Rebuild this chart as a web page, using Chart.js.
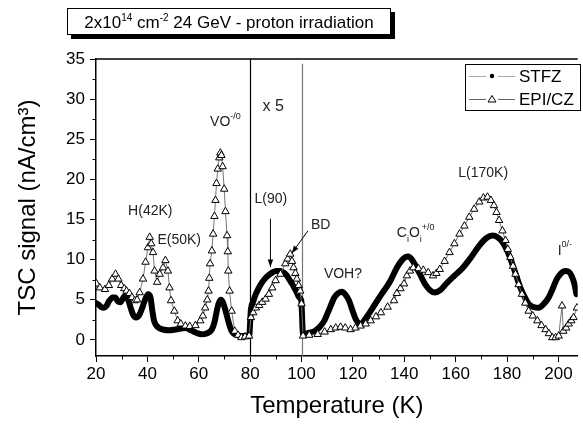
<!DOCTYPE html>
<html>
<head>
<meta charset="utf-8">
<script src="https://cdn.jsdelivr.net/npm/chart.js@4.4.1/dist/chart.umd.min.js"></script>
<style>
  html, body { margin: 0; padding: 0; background: #fff; }
  #wrap { position: relative; width: 583px; height: 426px; }
  #title {
    position: absolute; left: 67px; top: 8px; width: 322px; height: 25px;
    border: 1px solid #000; background: #fff; box-shadow: 4px 4px 0 #000;
    font: 17px "Liberation Sans", Arial, sans-serif; text-align: center;
    line-height: 28px; z-index: 2; white-space: nowrap;
  }
  #title sup { font-size: 10px; line-height: 0; vertical-align: 7px; }
</style>
</head>
<body>
<div id="wrap">
  <canvas id="tsc" width="583" height="426"></canvas>
  <div id="title">2x10<sup>14</sup> cm<sup>-2</sup> 24 GeV - proton irradiation</div>
</div>
<script>
// temperatures (K) and TSC signal (nA/cm3)
const stfzTemp = [20, 21, 22, 23, 24, 25, 26.5, 27.5, 28.5, 29.5, 30.5, 31.3, 32.5, 33.5, 34.5, 35.6, 36.8, 38, 39.2, 40.3,
  41.2, 42, 42.6, 43.5, 44.5, 46, 48.4, 51, 54.8, 57, 59, 61.2, 63, 65.1, 66.2, 67, 67.8, 68.7, 69.5, 70.2,
  70.8, 71.8, 72.8, 74, 76.6, 79.6, 80.3, 81.2, 82.2, 83.4, 84.7, 86.5, 88.6, 90.2, 91.8, 93, 94.3, 95.3, 96.3, 97.2,
  98.2, 99.1, 99.9, 100.6, 103, 105.1, 107, 108.9, 110.5, 111.8, 112.8, 114.2, 115.7, 117.2, 118.5, 119.8, 121.1, 123, 125, 126.9,
  129.5, 132, 134.5, 137.1, 139, 140.3, 141.6, 143.2, 144.8, 146.4, 148, 150, 151.9, 154, 156.3, 159.5, 162.8, 166, 169.2, 172,
  174.3, 176.3, 178.2, 180.2, 182, 183.6, 185.2, 186.8, 188.4, 190.3, 192.3, 194.3, 196.2, 197.8, 199.4, 201, 202.5, 204, 205.1, 206.2, 207];
const stfzSignal = [4.6, 4.4, 4.1, 4.0, 4.2, 4.8, 5.3, 5.3, 4.8, 4.7, 5.2, 5.5, 5.0, 4.0, 3.1, 2.8, 3.1, 4.0, 5.1, 5.7,
  5.3, 3.5, 2.4, 1.8, 1.5, 1.3, 1.2, 1.3, 1.5, 1.2, 0.9, 0.7, 0.8, 1.3, 2.3, 3.6, 4.6, 5.0, 4.6, 3.9,
  3.2, 2.0, 1.1, 0.7, 0.5, 0.5, 3.8, 4.8, 5.7, 6.5, 7.2, 7.9, 8.4, 8.6, 8.6, 8.4, 8.0, 7.5, 7.0, 6.5,
  5.9, 5.3, 4.9, 0.7, 0.9, 1.1, 1.6, 2.4, 3.6, 4.6, 5.3, 5.8, 6.0, 5.6, 4.9, 3.7, 2.6, 1.95, 2.7, 3.6,
  4.9, 6.1, 7.3, 9.0, 9.9, 10.3, 10.4, 9.9, 9.0, 8.0, 7.0, 6.2, 5.9, 6.2, 7.0, 8.0, 9.0, 10.3, 11.75, 12.7,
  13.0, 12.8, 12.2, 11.0, 9.5, 8.0, 6.5, 5.4, 4.5, 4.1, 4.0, 4.5, 5.3, 6.4, 7.6, 8.3, 8.6, 8.5, 8.0, 7.0, 5.7];

const epiTemp = [20.2, 21.5, 23.5, 25, 26.3, 27.6, 28.7, 29.8, 31, 31.9, 33, 34, 35.1, 36, 37, 38.3, 39.3, 40.2, 40.9, 41.5,
  42.2, 42.8, 43.8, 44.8, 46.1, 47, 48, 48.6, 49.2, 50.5, 51.8, 53, 54.8, 56.5, 58.7, 60.6, 61.6, 62.5, 63.3, 63.8,
  64.1, 64.4, 65.1, 65.6, 66.1, 66.5, 66.9, 67.4, 68, 68.4, 68.8, 69.3, 69.9, 70.4, 71, 71.3, 71.5, 72, 72.8, 74,
  75.3, 76.6, 78, 79.6, 80.3, 81.2, 82.2, 83.5, 84.7, 86, 87.3, 88.6, 89.9, 91.8, 93.7, 94.6, 95.6, 96.3, 96.9, 97.6,
  98.2, 98.9, 99.5, 100, 100.6, 103, 106.3, 109, 111.4, 113.3, 115.2, 117, 119.1, 121, 123, 125, 126.9, 129, 130.9, 133.5,
  136, 137.1, 138.5, 139.9, 141, 142.2, 143.5, 145.5, 147.4, 149.3, 151.2, 152.5, 153.8, 155.7, 157.6, 159.5, 161.5, 163.4, 165.3, 167.2,
  169.2, 170.8, 172.4, 173.7, 174.9, 175.9, 176.9, 178.2, 179.4, 180.3, 181.3, 182.3, 183.3, 184.5, 185.8, 187.1, 188.4, 190, 191.8, 193.4,
  195, 196.3, 197.6, 198.9, 200.1, 201.4, 201.9, 203, 204, 205, 205.9, 207.2];
const epiSignal = [7.0, 6.5, 6.3, 6.8, 7.6, 8.2, 7.6, 6.8, 6.4, 6.1, 5.8, 5.3, 4.9, 5.0, 5.9, 7.6, 9.7, 11.5, 12.8, 12.0,
  10.9, 8.6, 7.2, 8.2, 9.0, 9.9, 8.6, 6.5, 4.9, 3.6, 2.4, 2.0, 1.75, 1.7, 1.8, 2.4, 3.0, 4.0, 5.0, 6.1,
  7.7, 9.5, 11.1, 13.2, 15.4, 17.4, 19.5, 21.3, 22.7, 23.3, 23.0, 21.6, 18.8, 16.0, 13.0, 11.0, 8.6, 6.1, 3.6, 1.1,
  0.6, 0.3, 0.4, 0.5, 2.8, 3.4, 4.0, 4.3, 4.7, 5.1, 5.7, 6.5, 7.4, 8.2, 9.5, 10.1, 10.7, 9.8, 9.0, 8.3,
  7.6, 6.8, 6.1, 4.5, 0.5, 0.6, 0.7, 1.0, 1.3, 1.5, 1.6, 1.5, 1.3, 1.5, 1.75, 2.0, 2.4, 2.9, 3.4, 4.1,
  4.9, 5.8, 6.4, 7.0, 8.0, 8.6, 9.0, 8.9, 8.7, 8.4, 8.0, 8.3, 8.8, 9.8, 10.9, 12.0, 13.2, 14.2, 15.3, 16.3,
  17.2, 17.7, 17.8, 17.4, 16.75, 15.9, 14.9, 13.6, 12.4, 11.3, 10.3, 9.2, 8.2, 6.9, 5.7, 4.6, 3.6, 3.0, 2.4, 1.8,
  1.3, 0.8, 0.3, 0.3, 0.5, 4.25, 1.1, 1.5, 2.0, 2.4, 2.8, 4.0];

const seriesNames = ['STFZ', 'EPI/CZ'];
const xMin = 20, xMax = 207.5, xStep = 20, xMinor = 10;
const yMin = -2, yMax = 35, yStep = 5, yMinor = 2.5;
// region borders (x5 magnified section)
const sectionLines = [80, 100];

const FONT = '"Liberation Sans", Arial, sans-serif';

// labels placed in data coordinates; parts: [text, 'sup'|'sub'|undefined]
const notes = [
  { x: 32.5, y: 16.0, parts: [['H(42K)']] },
  { x: 43.9, y: 12.4, parts: [['E(50K)']] },
  { x: 64.4, y: 27.1, parts: [['VO'], ['-/0', 'sup']] },
  { x: 84.8, y: 29.1, parts: [['x 5']], size: 16 },
  { x: 81.7, y: 17.6, parts: [['L(90)']] },
  { x: 103.7, y: 14.25, parts: [['BD']] },
  { x: 108.7, y: 8.25, parts: [['VOH?']] },
  { x: 137.1, y: 13.25, parts: [['C'], ['i', 'sub'], ['O'], ['i', 'sub'], ['+/0', 'sup']] },
  { x: 161, y: 20.75, parts: [['L(170K)']] },
  { x: 199.7, y: 11.1, parts: [['I'], ['0/-', 'sup']] }
];
const arrows = [
  { from: [87.9, 15.1], to: [87.9, 9.1] },
  { from: [102.5, 13.6], to: [96.2, 10.8] }
];

const toPoints = (xs, ys) => xs.map((t, i) => ({ x: t, y: ys[i] }));

const decor = {
  id: 'decor',
  beforeDatasetsDraw(chart) {
    const { ctx, chartArea: a, scales: { x, y } } = chart;
    ctx.save();
    sectionLines.forEach((v, i) => {
      const px = Math.round(x.getPixelForValue(v)) + 0.5;
      ctx.strokeStyle = i === 0 ? '#000' : '#777';
      ctx.lineWidth = 1.2;
      ctx.beginPath();
      ctx.moveTo(px, i === 0 ? a.top : y.getPixelForValue(34.4));
      ctx.lineTo(px, a.bottom);
      ctx.stroke();
    });
    ctx.restore();
  },
  afterDraw(chart) {
    const { ctx, chartArea: a, scales: { x, y } } = chart;
    ctx.save();
    ctx.strokeStyle = '#000';
    ctx.lineWidth = 1.5;
    ctx.beginPath();
    ctx.moveTo(a.left, a.top);
    ctx.lineTo(a.right, a.top);
    ctx.stroke();

    // minor ticks
    ctx.lineWidth = 1;
    ctx.beginPath();
    for (let v = xMin + xMinor; v < xMax; v += xStep) {
      const px = Math.round(x.getPixelForValue(v)) + 0.5;
      ctx.moveTo(px, a.bottom);
      ctx.lineTo(px, a.bottom + 3.5);
    }
    for (let v = yMinor; v < yMax; v += yStep) {
      const py = Math.round(y.getPixelForValue(v)) + 0.5;
      ctx.moveTo(a.left, py);
      ctx.lineTo(a.left - 3.5, py);
    }
    ctx.stroke();

    // annotations
    ctx.fillStyle = '#222';
    ctx.textBaseline = 'middle';
    notes.forEach(n => {
      const size = n.size || 14;
      let px = x.getPixelForValue(n.x);
      const py = y.getPixelForValue(n.y);
      n.parts.forEach(([t, kind]) => {
        const s = kind ? Math.round(size * 0.65) : size;
        const dy = kind === 'sup' ? -size * 0.45 : kind === 'sub' ? size * 0.4 : 0;
        ctx.font = s + 'px ' + FONT;
        ctx.fillText(t, px, py + dy);
        px += ctx.measureText(t).width;
      });
    });

    // arrows
    ctx.strokeStyle = '#000';
    ctx.fillStyle = '#000';
    ctx.lineWidth = 1;
    arrows.forEach(ar => {
      const x1 = x.getPixelForValue(ar.from[0]), y1 = y.getPixelForValue(ar.from[1]);
      const x2 = x.getPixelForValue(ar.to[0]), y2 = y.getPixelForValue(ar.to[1]);
      const ang = Math.atan2(y2 - y1, x2 - x1);
      ctx.beginPath();
      ctx.moveTo(x1, y1);
      ctx.lineTo(x2, y2);
      ctx.stroke();
      ctx.beginPath();
      ctx.moveTo(x2, y2);
      ctx.lineTo(x2 - 8 * Math.cos(ang - 0.35), y2 - 8 * Math.sin(ang - 0.35));
      ctx.lineTo(x2 - 8 * Math.cos(ang + 0.35), y2 - 8 * Math.sin(ang + 0.35));
      ctx.closePath();
      ctx.fill();
    });

    // legend box
    const lx = 465, ly = 64, lw = 115, lh = 46;
    ctx.fillStyle = '#fff';
    ctx.fillRect(lx, ly, lw, lh);
    ctx.strokeStyle = '#000';
    ctx.strokeRect(lx + 0.5, ly + 0.5, lw, lh);
    const rows = [ly + 12, ly + 35];
    ctx.font = '17px ' + FONT;
    ctx.textBaseline = 'middle';
    rows.forEach((ry, i) => {
      ctx.strokeStyle = i === 0 ? '#aaa' : '#666';
      ctx.beginPath();
      ctx.moveTo(lx + 4, ry + 0.5); ctx.lineTo(lx + 21, ry + 0.5);
      ctx.moveTo(lx + 33, ry + 0.5); ctx.lineTo(lx + 50, ry + 0.5);
      ctx.stroke();
      ctx.fillStyle = '#000';
      ctx.strokeStyle = '#000';
      if (i === 0) {
        ctx.beginPath(); ctx.arc(lx + 27, ry, 2.2, 0, Math.PI * 2); ctx.fill();
      } else {
        ctx.beginPath();
        ctx.moveTo(lx + 27, ry - 3.5); ctx.lineTo(lx + 31, ry + 3); ctx.lineTo(lx + 23, ry + 3);
        ctx.closePath(); ctx.stroke();
      }
      ctx.fillText(seriesNames[i], lx + 54, ry + 1);
    });
    ctx.restore();
  }
};

new Chart(document.getElementById('tsc'), {
  type: 'line',
  data: {
    datasets: [
      {
        label: seriesNames[1],
        data: toPoints(epiTemp, epiSignal),
        borderColor: '#777',
        borderWidth: 1,
        pointStyle: 'triangle',
        pointRadius: 4.3,
        pointBackgroundColor: '#fff',
        pointBorderColor: '#000',
        pointBorderWidth: 1,
        tension: 0
      },
      {
        label: seriesNames[0],
        data: toPoints(stfzTemp, stfzSignal),
        borderColor: '#000',
        borderWidth: 6,
        borderJoinStyle: 'round',
        borderCapStyle: 'round',
        pointRadius: 0,
        cubicInterpolationMode: 'monotone'
      }
    ]
  },
  options: {
    responsive: false,
    devicePixelRatio: 1,
    animation: false,
    layout: { padding: { top: 59, right: 0, bottom: 0, left: 0 } },
    plugins: { legend: { display: false }, tooltip: { enabled: false } },
    scales: {
      x: {
        type: 'linear',
        min: xMin,
        max: xMax,
        afterFit: s => { s.height = 70; },
        border: { display: true, color: '#000', width: 1.5 },
        grid: { display: true, drawOnChartArea: false, drawTicks: true, tickLength: 6, color: '#000', lineWidth: 1 },
        ticks: { stepSize: xStep, includeBounds: false, color: '#000', font: { family: FONT, size: 17 }, padding: 2, maxRotation: 0 },
        title: { display: true, text: 'Temperature (K)', color: '#000', font: { family: FONT, size: 24 }, padding: { top: 0, bottom: 5 } }
      },
      y: {
        min: yMin,
        max: yMax,
        afterFit: s => { s.width = 96; },
        border: { display: true, color: '#000', width: 1.5 },
        grid: { display: true, drawOnChartArea: false, drawTicks: true, tickLength: 6, color: '#000', lineWidth: 1 },
        ticks: { stepSize: yStep, includeBounds: false, color: '#000', font: { family: FONT, size: 17 }, padding: 5 },
        title: { display: true, text: 'TSC signal (nA/cm³)', color: '#000', font: { family: FONT, size: 24 }, padding: { top: 14, bottom: 0 } }
      }
    }
  },
  plugins: [decor]
});
</script>
</body>
</html>
